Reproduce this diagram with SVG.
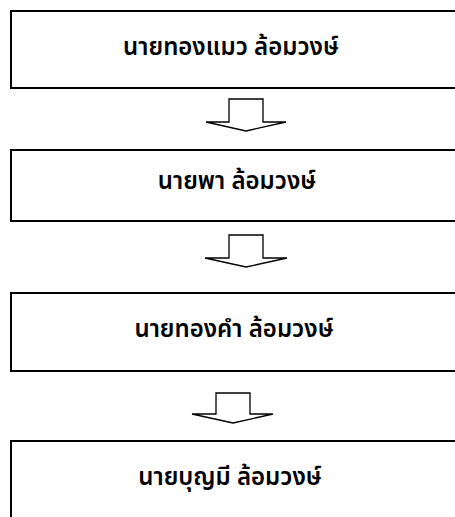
<svg xmlns="http://www.w3.org/2000/svg" width="455" height="517" viewBox="0 0 455 517">
<style>
.box{fill:#fff;stroke:#000;stroke-width:2}
.arr{fill:#fff;stroke:#000;stroke-width:1.3;stroke-linejoin:miter}
.lbl{font-family:"Noto Sans Thai","Tahoma","Loma","Noto Sans","DejaVu Sans",sans-serif;font-size:24px;font-weight:600;fill:#000;text-anchor:middle}
</style>
<rect width="455" height="517" fill="#fff"/>
<g id="node1"><rect class="box" x="11" y="11" width="460" height="77"/><text class="lbl" x="231" y="55">นายทองแมว ล้อมวงษ์</text></g>
<g id="node2"><rect class="box" x="11" y="150" width="460" height="71"/><text class="lbl" x="237" y="189">นายพา ล้อมวงษ์</text></g>
<g id="node3"><rect class="box" x="11" y="293" width="460" height="78"/><text class="lbl" x="234" y="337">นายทองคำ ล้อมวงษ์</text></g>
<g id="node4"><rect class="box" x="11" y="441" width="460" height="90"/><text class="lbl" x="230" y="485">นายบุญมี ล้อมวงษ์</text></g>
<g id="connectors">
<polygon class="arr" points="229,99 263,99 263,122 286,122 246,131 206,122 229,122"/>
<polygon class="arr" points="229,235 263,235 263,258 287,258 246,267 205,258 229,258"/>
<polygon class="arr" points="216,393 250,393 250,414 273,414 233,423 192,414 216,414"/>
</g>
</svg>
